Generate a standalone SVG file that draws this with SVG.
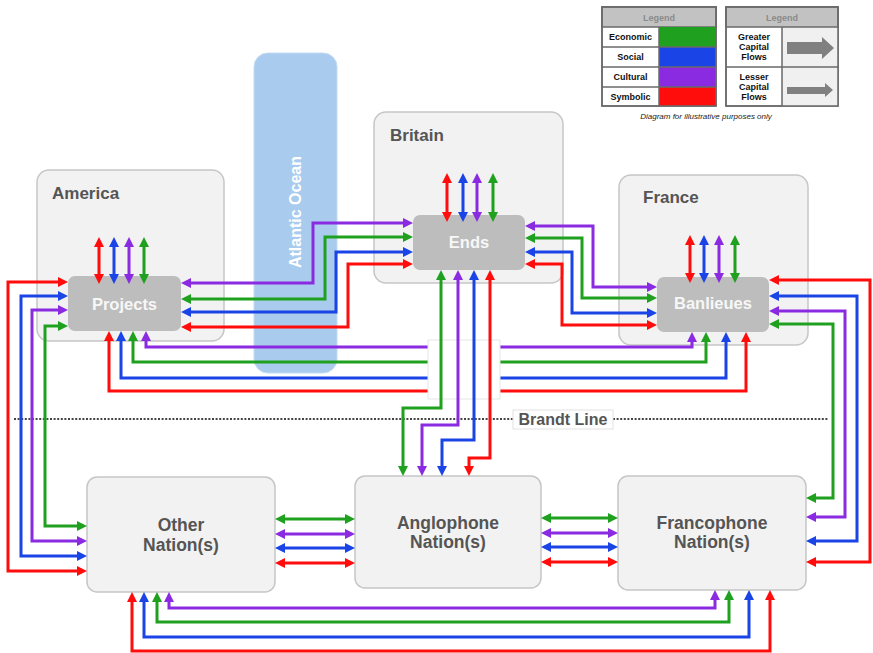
<svg xmlns="http://www.w3.org/2000/svg" width="873" height="653" viewBox="0 0 873 653">
<style>
.t{font-family:'Liberation Sans',Arial,sans-serif;font-weight:bold}
.country{fill:#f2f2f2;stroke:#c6c6c6;stroke-width:1.5}
.sub{fill:#bdbdbd}
.lbl{font-size:17px;fill:#555}
.sublbl{font-size:16.5px;fill:#f7f7f7;text-anchor:middle}
.nat{font-size:17.5px;fill:#555;text-anchor:middle}
.c{fill:none;stroke-width:3}
.g{stroke:#1fa11f;marker-start:url(#aG);marker-end:url(#aG)}
.b{stroke:#1a44e6;marker-start:url(#aB);marker-end:url(#aB)}
.p{stroke:#8a2be2;marker-start:url(#aP);marker-end:url(#aP)}
.r{stroke:#ff0d0d;marker-start:url(#aR);marker-end:url(#aR)}
.lg{fill:#fff;stroke:#6a6a6a;stroke-width:1.5}
.lgt{font-size:9px;fill:#111;text-anchor:middle}
.lgh{font-size:9px;fill:#8a8a8a;text-anchor:middle}
</style>
<defs>
<marker id="aG" viewBox="0 0 10 10" refX="5" refY="5" markerWidth="10" markerHeight="10" markerUnits="userSpaceOnUse" orient="auto-start-reverse"><path d="M0,0 L10,5 L0,10 z" fill="#1fa11f"/></marker>
<marker id="aB" viewBox="0 0 10 10" refX="5" refY="5" markerWidth="10" markerHeight="10" markerUnits="userSpaceOnUse" orient="auto-start-reverse"><path d="M0,0 L10,5 L0,10 z" fill="#1a44e6"/></marker>
<marker id="aP" viewBox="0 0 10 10" refX="5" refY="5" markerWidth="10" markerHeight="10" markerUnits="userSpaceOnUse" orient="auto-start-reverse"><path d="M0,0 L10,5 L0,10 z" fill="#8a2be2"/></marker>
<marker id="aR" viewBox="0 0 10 10" refX="5" refY="5" markerWidth="10" markerHeight="10" markerUnits="userSpaceOnUse" orient="auto-start-reverse"><path d="M0,0 L10,5 L0,10 z" fill="#ff0d0d"/></marker>
</defs>
<rect width="873" height="653" fill="#fff"/>

<!-- Legend 1 -->
<g id="legend-colours">
<rect x="602" y="7" width="114" height="99" class="lg"/>
<rect x="602" y="7" width="114" height="20" fill="#c2c2c2" stroke="#6a6a6a" stroke-width="1.5"/>
<text x="659" y="20.5" class="t lgh">Legend</text>
<rect x="659" y="27" width="57" height="20" fill="#1fa11f"/>
<rect x="659" y="47" width="57" height="20" fill="#1a44e6"/>
<rect x="659" y="67" width="57" height="20" fill="#8a2be2"/>
<rect x="659" y="87" width="57" height="19" fill="#ff0d0d"/>
<path d="M602,47 H716 M602,67 H716 M602,87 H716 M659,27 V106" stroke="#6a6a6a" stroke-width="1.5" fill="none"/>
<rect x="602" y="7" width="114" height="99" fill="none" stroke="#6a6a6a" stroke-width="1.5"/>
<text x="630.5" y="40" class="t lgt">Economic</text>
<text x="630.5" y="60" class="t lgt">Social</text>
<text x="630.5" y="80" class="t lgt">Cultural</text>
<text x="630.5" y="100" class="t lgt">Symbolic</text>
</g>

<!-- Legend 2 -->
<g id="legend-flows">
<rect x="726" y="7" width="112" height="99" class="lg"/>
<rect x="782" y="27" width="56" height="79" fill="#f0f0f0"/>
<rect x="726" y="7" width="112" height="20" fill="#c2c2c2" stroke="#6a6a6a" stroke-width="1.5"/>
<text x="782" y="20.5" class="t lgh">Legend</text>
<path d="M726,67 H838 M782,27 V106" stroke="#6a6a6a" stroke-width="1.5" fill="none"/>
<rect x="726" y="7" width="112" height="99" fill="none" stroke="#6a6a6a" stroke-width="1.5"/>
<text x="754" y="40" class="t lgt">Greater</text>
<text x="754" y="50" class="t lgt">Capital</text>
<text x="754" y="60" class="t lgt">Flows</text>
<text x="754" y="80" class="t lgt">Lesser</text>
<text x="754" y="90" class="t lgt">Capital</text>
<text x="754" y="100" class="t lgt">Flows</text>
<polygon points="787,42 822,42 822,37 834,48 822,59 822,54 787,54" fill="#808080"/>
<polygon points="787,87 825,87 825,83 833,90 825,97 825,94 787,94" fill="#808080"/>
</g>
<text x="706" y="119" font-family="'Liberation Sans',Arial,sans-serif" font-style="italic" font-size="8" fill="#222" text-anchor="middle">Diagram for illustrative purposes only</text>

<!-- Ocean -->
<g id="ocean">
<rect x="254" y="53" width="83" height="320" rx="14" fill="#a9cbed" stroke="#c2daf2" stroke-width="1"/>
<text transform="translate(301,212) rotate(-90)" class="t" font-size="16" fill="#fff" text-anchor="middle">Atlantic Ocean</text>
</g>

<!-- Countries -->
<g id="america">
<rect x="37" y="170" width="187" height="171" rx="12" class="country"/>
<text x="52" y="199" class="t lbl">America</text>
</g>
<g id="britain">
<rect x="374" y="112" width="189" height="171" rx="12" class="country"/>
<text x="390" y="141" class="t lbl">Britain</text>
</g>
<g id="france">
<rect x="619" y="175" width="189" height="170" rx="12" class="country"/>
<text x="643" y="203" class="t lbl">France</text>
</g>

<g id="projects">
<rect x="68" y="276" width="113" height="55" rx="7" class="sub"/>
<text x="124.5" y="310" class="t sublbl">Projects</text>
</g>
<g id="ends">
<rect x="413" y="215" width="112" height="55" rx="7" class="sub"/>
<text x="469" y="248" class="t sublbl">Ends</text>
</g>
<g id="banlieues">
<rect x="657" y="277" width="112" height="55" rx="7" class="sub"/>
<text x="713" y="309" class="t sublbl">Banlieues</text>
</g>

<g id="other-nations">
<rect x="87" y="477" width="188" height="115" rx="10" class="country"/>
<text x="181" y="531" class="t nat">Other</text>
<text x="181" y="551" class="t nat">Nation(s)</text>
</g>
<g id="anglophone-nations">
<rect x="355" y="476" width="186" height="112" rx="10" class="country"/>
<text x="448" y="529" class="t nat">Anglophone</text>
<text x="448" y="548" class="t nat">Nation(s)</text>
</g>
<g id="francophone-nations">
<rect x="618" y="476" width="188" height="114" rx="10" class="country"/>
<text x="712" y="529" class="t nat">Francophone</text>
<text x="712" y="548" class="t nat">Nation(s)</text>
</g>

<!-- Brandt line -->
<g id="brandt-line">
<path d="M14,419 H513 M613,419 H828" stroke="#444" stroke-width="2.2" stroke-dasharray="2 1.6" fill="none"/>
<rect x="513" y="410" width="100" height="19" fill="#fff" stroke="#e2e2e2" stroke-width="1"/>
<text x="563" y="425" class="t" font-size="16" fill="#555" text-anchor="middle">Brandt Line</text>
</g>

<g id="connectors">
<!-- internal double arrows -->
<path class="c r" d="M99,242 V279"/>
<path class="c b" d="M114,242 V279"/>
<path class="c p" d="M129,242 V279"/>
<path class="c g" d="M144,242 V279"/>
<path class="c r" d="M447,178 V217"/>
<path class="c b" d="M463,178 V217"/>
<path class="c p" d="M477,178 V217"/>
<path class="c g" d="M493,178 V217"/>
<path class="c r" d="M690,240 V278"/>
<path class="c b" d="M704,240 V278"/>
<path class="c p" d="M719,240 V278"/>
<path class="c g" d="M735,240 V278"/>

<!-- Projects <-> Other -->
<path class="c r" d="M63,282 H8 V571 H82"/>
<path class="c b" d="M63,296 H21 V556 H82"/>
<path class="c p" d="M63,310 H32 V541 H82"/>
<path class="c g" d="M63,326 H45 V526 H82"/>

<!-- Projects <-> Ends -->
<path class="c p" d="M186,283 H313 V223 H408"/>
<path class="c g" d="M186,299 H325 V237 H408"/>
<path class="c b" d="M186,312 H336 V252 H408"/>
<path class="c r" d="M186,327 H348 V264 H408"/>

<!-- Ends <-> Banlieues -->
<path class="c p" d="M530,226 H593 V287 H652"/>
<path class="c g" d="M530,238 H582 V298 H652"/>
<path class="c b" d="M530,252 H572 V313 H652"/>
<path class="c r" d="M530,264 H562 V325 H652"/>

<!-- Banlieues <-> Francophone -->
<path class="c r" d="M774,280 H870 V562 H811"/>
<path class="c b" d="M774,296 H857 V541 H811"/>
<path class="c p" d="M774,311 H845 V517 H811"/>
<path class="c g" d="M774,324 H833 V498 H811"/>

<!-- Projects <-> Banlieues -->
<path class="c p" d="M146,336 V347 H692 V337"/>
<path class="c g" d="M133,336 V362 H706 V337"/>
<path class="c b" d="M121,336 V378 H726 V337"/>
<path class="c r" d="M109,336 V391 H746 V337"/>
<rect x="428" y="340" width="72" height="59" fill="#fff" stroke="#e6e6e6" stroke-width="1"/>

<!-- Ends <-> Anglophone -->
<path class="c g" d="M441,275 V408 H403 V471"/>
<path class="c p" d="M458,275 V425 H422 V471"/>
<path class="c b" d="M474,275 V440 H442 V471"/>
<path class="c r" d="M490,275 V458 H469 V471"/>

<!-- Other <-> Anglophone -->
<path class="c g" d="M280,519 H350"/>
<path class="c p" d="M280,534 H350"/>
<path class="c b" d="M280,548 H350"/>
<path class="c r" d="M280,563 H350"/>
<!-- Anglophone <-> Francophone -->
<path class="c g" d="M546,518 H613"/>
<path class="c p" d="M546,533 H613"/>
<path class="c b" d="M546,547 H613"/>
<path class="c r" d="M546,562 H613"/>

<!-- Other <-> Francophone -->
<path class="c p" d="M169,597 V608 H715 V595"/>
<path class="c g" d="M157,597 V622 H729 V595"/>
<path class="c b" d="M144,597 V637 H749 V595"/>
<path class="c r" d="M132,597 V651 H770 V595"/>
</g>
</svg>
